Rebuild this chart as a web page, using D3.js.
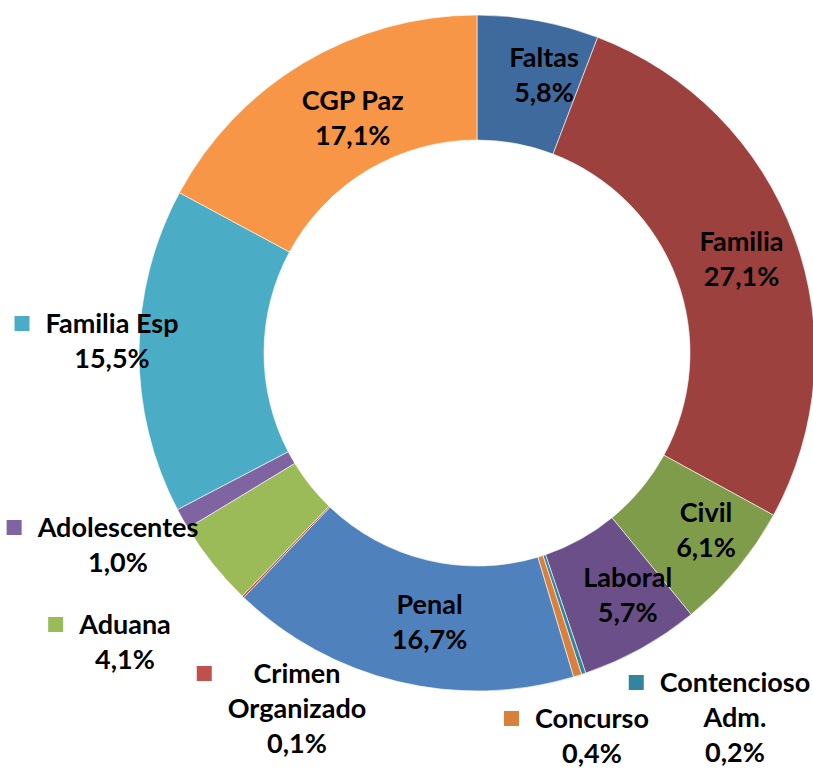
<!DOCTYPE html>
<html>
<head>
<meta charset="utf-8">
<script src="https://cdn.jsdelivr.net/npm/d3@7"></script>
<style>
  html, body { margin: 0; padding: 0; background: #fff; }
  text { font-family: Lato, "Open Sans", sans-serif; font-weight: bold; font-size: 27px; fill: #000; }
</style>
</head>
<body>
<div id="chart"></div>
<script>
// slices, clockwise from 12 o'clock
var categories = ["Faltas", "Familia", "Civil", "Laboral", "Contencioso Adm.", "Concurso",
                  "Penal", "Crimen Organizado", "Aduana", "Adolescentes", "Familia Esp", "CGP Paz"];
var shares = [5.8, 27.1, 6.1, 5.7, 0.2, 0.4, 16.7, 0.1, 4.1, 1.0, 15.5, 17.1];
var colors = ["#3f6a9e", "#9d413f", "#7f9c4a", "#6a4f89", "#31859c", "#d9813c",
              "#4f81bd", "#c0504d", "#9bbb59", "#8064a2", "#4bacc6", "#f79646"];

// small nudges of the inside labels away from the centroid
var insideNudge = {
  "Faltas": [17, -7], "Familia": [6, 2], "Civil": [17, 2],
  "Laboral": [17, 2], "Penal": [17, 2], "CGP Paz": [17, 2]
};

// labels drawn outside the ring, with a legend key (text centre, first baseline)
var outsideLabels = {
  "Familia Esp":       {lines: ["Familia Esp"], x: 112, y: 333},
  "Adolescentes":      {lines: ["Adolescentes"], x: 118, y: 537},
  "Aduana":            {lines: ["Aduana"], x: 125, y: 634},
  "Crimen Organizado": {lines: ["Crimen", "Organizado"], x: 297, y: 683},
  "Concurso":          {lines: ["Concurso"], x: 592, y: 728},
  "Contencioso Adm.":  {lines: ["Contencioso", "Adm."], x: 735, y: 692}
};

var width = 813, height = 769;
var cx = 477, cy = 353;
var outerR = 338, innerR = 213;
var lineH = 35;

var svg = d3.select("#chart").append("svg")
    .attr("width", width)
    .attr("height", height);

var g = svg.append("g").attr("transform", "translate(" + cx + "," + cy + ")");

var data = categories.map(function (c, i) {
  return {name: c, value: shares[i], color: colors[i]};
});

var pie = d3.pie().sort(null).value(function (d) { return d.value; });
var arc = d3.arc().innerRadius(innerR).outerRadius(outerR);

var fmt = function (v) { return v.toFixed(1).replace(".", ",") + "%"; };

// ring
g.selectAll("path.slice")
    .data(pie(data))
    .enter().append("path")
    .attr("class", "slice")
    .attr("d", arc)
    .attr("fill", function (d) { return d.data.color; })
    .attr("stroke", "#fff")
    .attr("stroke-width", 0.6);

// labels
var labels = svg.append("g");

pie(data).forEach(function (d) {
  var out = outsideLabels[d.data.name];
  if (!out) {
    // inside the ring, around the centroid
    var c = arc.centroid(d), n = insideNudge[d.data.name] || [17, 2];
    var lx = cx + c[0] + n[0], ly = cy + c[1] + n[1];
    var t = labels.append("text").attr("text-anchor", "middle");
    var lines = [d.data.name, fmt(d.data.value)];
    lines.forEach(function (s, i) {
      t.append("tspan").attr("x", lx).attr("y", ly - lineH / 2 + 9 + i * lineH).text(s);
    });
  } else {
    var lines2 = out.lines.concat([fmt(d.data.value)]);
    var t2 = labels.append("text").attr("text-anchor", "middle");
    var maxW = 0;
    lines2.forEach(function (s, i) {
      var sp = t2.append("tspan").attr("x", out.x).attr("y", out.y + i * lineH).text(s);
      maxW = Math.max(maxW, sp.node().getComputedTextLength());
    });
    // legend key left of the block, level with the first line
    labels.append("rect")
        .attr("x", out.x - maxW / 2 - 31)
        .attr("y", out.y - 9.5 - 7.5)
        .attr("width", 15)
        .attr("height", 15)
        .attr("fill", d.data.color);
  }
});
</script>
</body>
</html>
